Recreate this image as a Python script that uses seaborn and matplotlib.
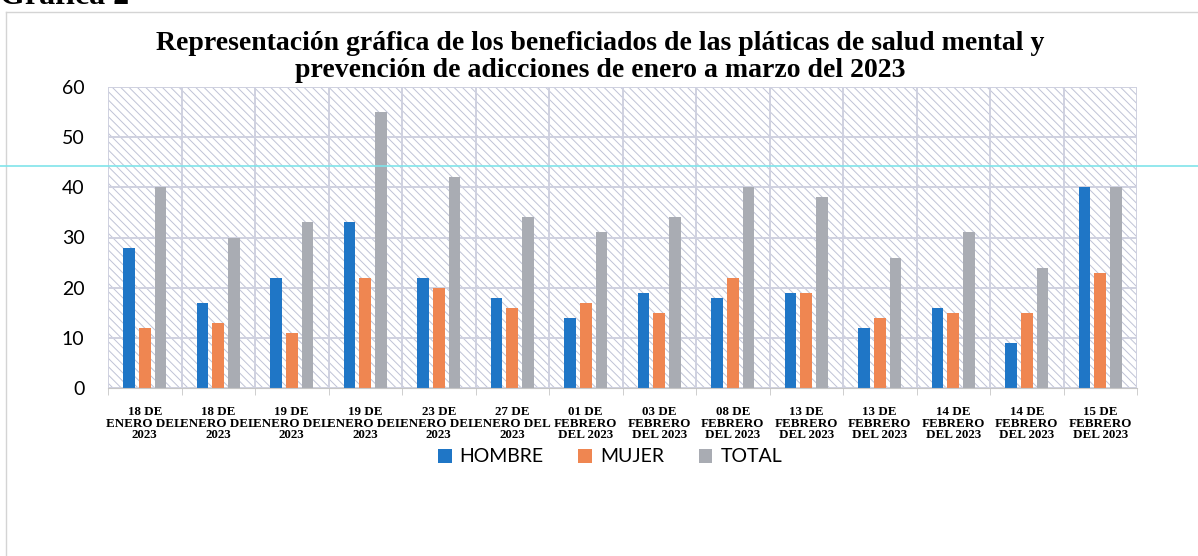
import pandas as pd
import numpy as np
import seaborn as sns
import matplotlib
matplotlib.use("Agg")
import matplotlib.pyplot as plt
from matplotlib.patches import Rectangle
from matplotlib.lines import Line2D

# datos (beneficiados por platica)
fechas = [
    "18 DE\nENERO DEL\n2023", "18 DE\nENERO DEL\n2023", "19 DE\nENERO DEL\n2023",
    "19 DE\nENERO DEL\n2023", "23 DE\nENERO DEL\n2023", "27 DE\nENERO DEL\n2023",
    "01 DE\nFEBRERO\nDEL 2023", "03 DE\nFEBRERO\nDEL 2023", "08 DE\nFEBRERO\nDEL 2023",
    "13 DE\nFEBRERO\nDEL 2023", "13 DE\nFEBRERO\nDEL 2023", "14 DE\nFEBRERO\nDEL 2023",
    "14 DE\nFEBRERO\nDEL 2023", "15 DE\nFEBRERO\nDEL 2023",
]
hombre = [28, 17, 22, 33, 22, 18, 14, 19, 18, 19, 12, 16, 9, 40]
mujer = [12, 13, 11, 22, 20, 16, 17, 15, 22, 19, 14, 15, 15, 23]
total = [40, 30, 33, 55, 42, 34, 31, 34, 40, 38, 26, 31, 24, 40]

colores = {"HOMBRE": "#1f76c6", "MUJER": "#ef8651", "TOTAL": "#a9acb3"}

df = pd.DataFrame({"n": range(len(fechas)), "HOMBRE": hombre, "MUJER": mujer, "TOTAL": total})
df = df.melt(id_vars="n", var_name="grupo", value_name="personas")

plt.rcParams["hatch.linewidth"] = 0.7

fig = plt.figure(figsize=(11.98, 5.56), dpi=100)
ax = fig.add_axes([108 / 1198, 1 - 388 / 556, (1137 - 108) / 1198, (388 - 87) / 556])

# fondo rayado
ax.add_patch(Rectangle((0, 0), 1, 1, transform=ax.transAxes, facecolor="white",
                       edgecolor="#bfc3d6", hatch="\\\\\\\\", lw=0, zorder=0))

sns.barplot(data=df, x="n", y="personas", hue="grupo", palette=colores,
            width=0.64, gap=0.25, saturation=1, ax=ax)

ax.set_xlim(-0.5, len(fechas) - 0.5)
ax.set_ylim(0, 60)
ax.set_yticks(range(0, 61, 10))
ax.set_xticks(range(len(fechas)), labels=fechas)
ax.set_xticks(np.arange(-0.5, len(fechas), 1), minor=True)
ax.set_xlabel("")
ax.set_ylabel("")

ax.set_axisbelow(True)
ax.grid(which="minor", axis="x", color="#cfd1e0", lw=1.4)
ax.grid(which="major", axis="y", color="#cfd1e0", lw=1.4)
ax.grid(which="major", axis="x", visible=False)

for s in ["left", "top", "right"]:
    ax.spines[s].set_visible(False)
ax.spines["bottom"].set_color("#c6c6c6")

ax.tick_params(axis="x", which="major", length=0, pad=13)
ax.tick_params(axis="x", which="minor", length=5, color="#c6c6c6")
ax.tick_params(axis="y", length=0, pad=17, labelsize=14)
for lab in ax.get_yticklabels():
    lab.set_fontfamily("Lato")
for lab in ax.get_xticklabels():
    lab.set_fontfamily("Liberation Serif")
    lab.set_fontweight("bold")
    lab.set_fontsize(9.4)
    lab.set_linespacing(0.95)

handles, labels = ax.get_legend_handles_labels()
ax.get_legend().remove()
fig.legend(handles, labels, ncol=3, loc="center", bbox_to_anchor=(610 / 1198, 1 - 457 / 556),
           frameon=False, prop={"family": "Lato", "size": 14}, handlelength=0.7,
           handleheight=0.7, handletextpad=0.4, columnspacing=1.8)

fig.text(600 / 1198, 1 - 31 / 556,
         "Representación gráfica de los beneficiados de las pláticas de salud mental y\n"
         "prevención de adicciones de enero a marzo del 2023",
         ha="center", va="top", multialignment="center", linespacing=1.1,
         family="Liberation Serif", weight="bold", fontsize=20)

fig.text(0.0, 1 - 4 / 556, "Gráfica 2", ha="left", va="baseline",
         family="Liberation Serif", weight="bold", fontsize=23)

# marco del grafico y linea del escaneo
fig.add_artist(Line2D([6 / 1198, 1], [1 - 12 / 556] * 2, transform=fig.transFigure, color="#d4d4d4", lw=1))
fig.add_artist(Line2D([6 / 1198] * 2, [0, 1 - 12 / 556], transform=fig.transFigure, color="#d4d4d4", lw=1))
fig.add_artist(Line2D([0, 1], [1 - 166 / 556] * 2, transform=fig.transFigure, color="#80e4ea", lw=1.2))

fig.savefig("out.png", dpi=100)
